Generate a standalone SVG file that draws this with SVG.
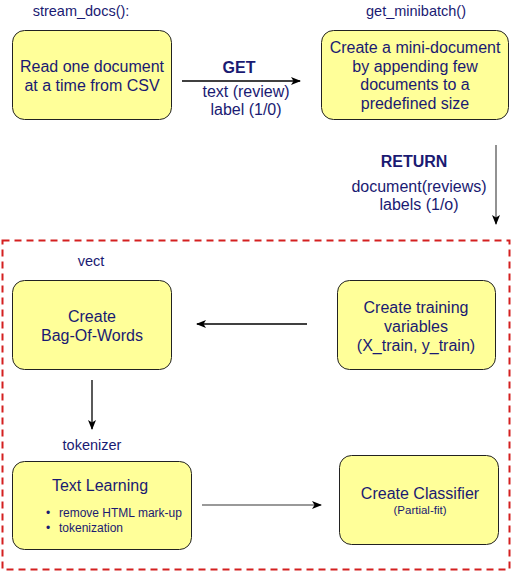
<svg xmlns="http://www.w3.org/2000/svg" width="512" height="573" viewBox="0 0 512 573">
<defs>
<style>
text{font-family:"Liberation Sans",Arial,sans-serif;fill:#1a1a72;text-anchor:middle}
.box{fill:#ffff99;stroke:#222;stroke-width:1}
.t16{font-size:16px}
.lbl{font-size:14.5px}
.b{font-weight:bold}
.ln{fill:none;stroke:#000;stroke-width:1.3}
.gl{fill:none;stroke:#777;stroke-width:1.6}
</style>
<marker id="ah" viewBox="0 0 10 10" refX="9" refY="5" markerWidth="10" markerHeight="10" markerUnits="userSpaceOnUse" orient="auto">
<path d="M0,1 L10,5 L0,9 L2.5,5 Z" fill="#000"/>
</marker>
</defs>
<rect x="2.5" y="240.5" width="507" height="329" fill="none" stroke="#d42020" stroke-width="2" stroke-dasharray="7,5"/>
<g id="connectors">
<line class="ln" x1="182" y1="81" x2="300" y2="81" marker-end="url(#ah)"/>
<line class="gl" x1="496" y1="145" x2="496" y2="224" marker-end="url(#ah)"/>
<line class="ln" x1="307" y1="324" x2="197" y2="324" marker-end="url(#ah)"/>
<line class="ln" x1="92" y1="380" x2="92" y2="429" marker-end="url(#ah)"/>
<line class="gl" x1="202" y1="505" x2="321" y2="505" marker-end="url(#ah)"/>
<text class="t16 b" x="239" y="73">GET</text>
<text class="t16" x="246" y="97">text (review)</text>
<text class="t16" x="246" y="115">label (1/0)</text>
<text class="t16 b" x="414" y="167">RETURN</text>
<text class="t16" x="419" y="192">document(reviews)</text>
<text class="t16" x="419" y="210">labels (1/o)</text>
</g>
<g id="stream_docs">
<text class="lbl" x="81" y="16">stream_docs():</text>
<rect class="box" x="12.5" y="30.5" width="159" height="89" rx="12"/>
<text class="t16" x="92" y="72">Read one document</text>
<text class="t16" x="92" y="91">at a time from CSV</text>
</g>
<g id="get_minibatch">
<text class="lbl" x="416" y="16">get_minibatch()</text>
<rect class="box" x="321.5" y="30.5" width="187" height="89" rx="12"/>
<text class="t16" x="415" y="53">Create a mini-document</text>
<text class="t16" x="415" y="71.5">by appending few</text>
<text class="t16" x="415" y="90">documents to a</text>
<text class="t16" x="415" y="108.5">predefined size</text>
</g>
<g id="bow">
<text class="lbl" x="91" y="266">vect</text>
<rect class="box" x="12.5" y="280.5" width="159" height="89" rx="12"/>
<text class="t16" x="92" y="322">Create</text>
<text class="t16" x="92" y="341">Bag-Of-Words</text>
</g>
<g id="training">
<rect class="box" x="337.5" y="280.5" width="158" height="89" rx="12"/>
<text class="t16" x="416" y="313">Create training</text>
<text class="t16" x="416" y="332">variables</text>
<text class="t16" x="416" y="351">(X_train, y_train)</text>
</g>
<g id="text_learning">
<text class="lbl" x="92" y="450">tokenizer</text>
<rect class="box" x="12.5" y="461.5" width="179" height="88" rx="12"/>
<text class="t16" x="100" y="491">Text Learning</text>
<g style="font-size:12px">
<text x="48" y="517">•</text>
<text x="59" y="517" style="text-anchor:start">remove HTML mark-up</text>
<text x="48" y="532">•</text>
<text x="59" y="532" style="text-anchor:start">tokenization</text>
</g>
</g>
<g id="classifier">
<rect class="box" x="339.5" y="455.5" width="159" height="89" rx="12"/>
<text class="t16" x="420" y="499">Create Classifier</text>
<text x="420" y="514" style="font-size:11.5px">(Partial-fit)</text>
</g>
</svg>
